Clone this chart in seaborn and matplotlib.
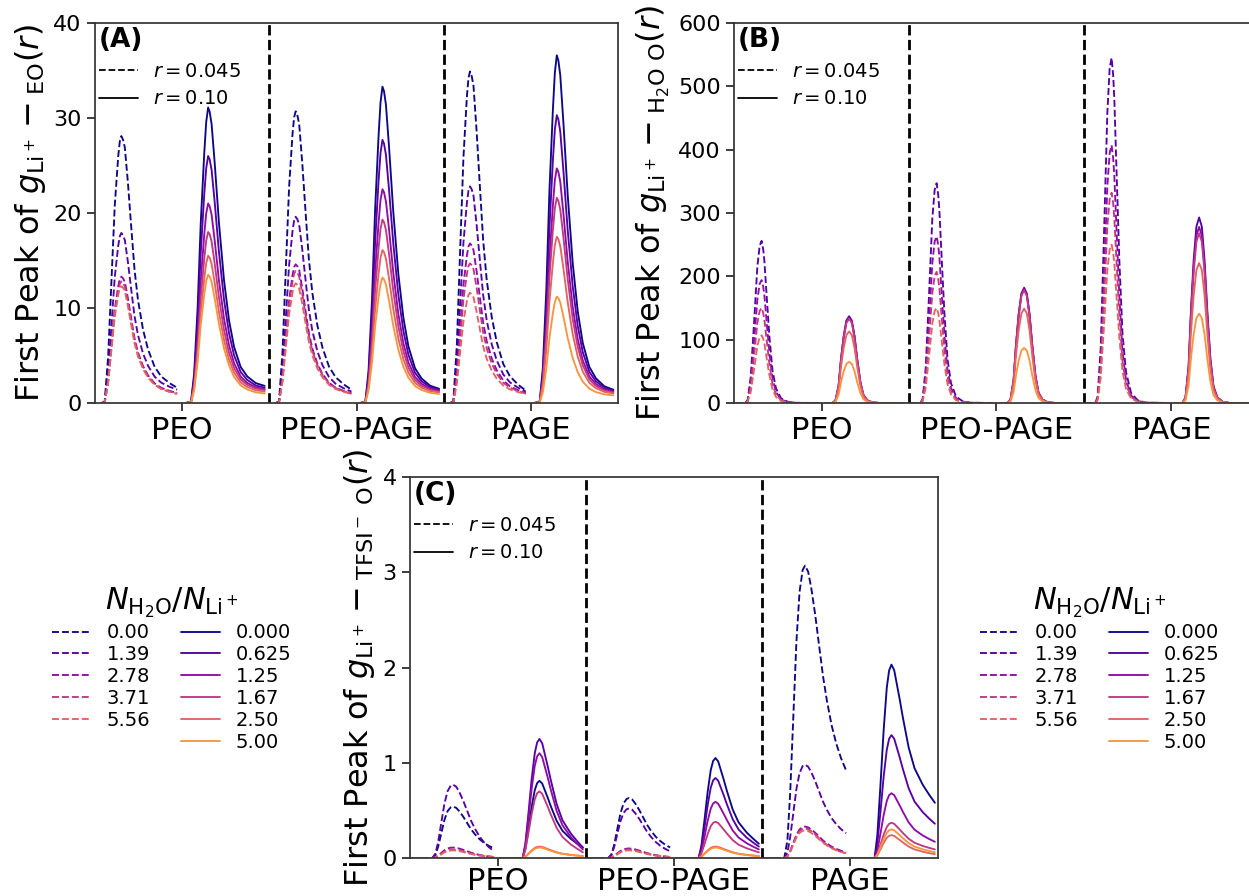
import numpy as np
import pandas as pd
import matplotlib
matplotlib.use("Agg")
import matplotlib.pyplot as plt
from matplotlib.lines import Line2D
import seaborn as sns

# ---------------------------------------------------------------- data
categories = ["PEO", "PEO-PAGE", "PAGE"]
ratios_045 = ["0.00", "1.39", "2.78", "3.71", "5.56"]
ratios_010 = ["0.000", "0.625", "1.25", "1.67", "2.50", "5.00"]

# first-peak maxima (one row per polymer) and value at the end of the r window
peak_A_045 = [[28.1, 17.9, 13.3, 12.8, 12.3],
              [30.7, 19.6, 14.6, 13.9, 12.6],
              [34.9, 22.8, 16.8, 14.7, 11.6]]
tail_A_045 = [[1.6, 1.4, 1.05, 1.0, 0.95],
              [1.4, 1.2, 1.0, 1.0, 0.95],
              [1.3, 1.2, 1.05, 1.0, 0.95]]
peak_A_010 = [[31.1, 26.0, 21.0, 18.0, 15.5, 13.5],
              [33.3, 27.7, 22.5, 19.3, 16.1, 13.2],
              [36.6, 30.3, 24.7, 21.6, 17.5, 11.2]]
tail_A_010 = [[1.8, 1.6, 1.45, 1.35, 1.2, 1.0],
              [1.5, 1.4, 1.3, 1.2, 1.1, 0.95],
              [1.4, 1.3, 1.2, 1.1, 1.0, 0.8]]

# no water at N_H2O/N_Li+ = 0, so no Li+ - H2O curve there
peak_B_045 = [[np.nan, 256, 194, 150, 107],
              [np.nan, 347, 263, 207, 150],
              [np.nan, 545, 407, 332, 250]]
tail_B_045 = [[0, 0, 0, 0, 0], [0, 0, 0, 0, 0], [0, 0, 0, 0, 0]]
peak_B_010 = [[np.nan, 137, 135, 133, 113, 65],
              [np.nan, 182, 180, 178, 149, 87],
              [np.nan, 293, 278, 268, 221, 141]]
tail_B_010 = [[0, 0, 0, 0, 0, 0], [0, 0, 0, 0, 0, 0], [0, 0, 0, 0, 0, 0]]

peak_C_045 = [[0.54, 0.77, 0.11, 0.09, 0.08],
              [0.63, 0.52, 0.10, 0.09, 0.08],
              [3.07, 0.98, 0.33, 0.31, 0.29]]
tail_C_045 = [[0.10, 0.07, 0.01, 0.01, 0.01],
              [0.11, 0.07, 0.01, 0.01, 0.01],
              [0.92, 0.26, 0.06, 0.05, 0.05]]
peak_C_010 = [[0.81, 1.25, 1.10, 0.70, 0.12, 0.11],
              [1.05, 0.84, 0.59, 0.38, 0.12, 0.11],
              [2.03, 1.29, 0.68, 0.37, 0.24, 0.30]]
tail_C_010 = [[0.11, 0.11, 0.09, 0.06, 0.02, 0.02],
              [0.15, 0.12, 0.09, 0.06, 0.02, 0.02],
              [0.58, 0.36, 0.17, 0.09, 0.04, 0.06]]

# normalized first-peak profiles: r (Å) and g scaled to the maximum (rise)
# or to (maximum - end value) (fall)
rA045_rise = [1.57, 1.65, 1.74, 1.83, 1.91, 2.00, 2.04, 2.08]
gA045_rise = [0, 0.005, 0.175, 0.475, 0.74, 0.925, 0.98, 1]
rA045_fall = [2.125, 2.17, 2.25, 2.34, 2.42, 2.51, 2.64, 2.77, 2.94, 3.11, 3.32, 3.52]
gA045_fall = [0.985, 0.955, 0.814, 0.629, 0.47, 0.348, 0.231, 0.152, 0.083, 0.045, 0.019, 0]
rA010_rise = [1.50, 1.63, 1.71, 1.80, 1.88, 1.97, 2.02, 2.07]
gA010_rise = [0, 0.005, 0.10, 0.325, 0.61, 0.845, 0.95, 1]
rA010_fall = [2.11, 2.16, 2.24, 2.35, 2.48, 2.61, 2.74, 2.91, 3.08, 3.30, 3.53]
gA010_fall = [0.985, 0.94, 0.80, 0.585, 0.38, 0.235, 0.14, 0.068, 0.034, 0.01, 0]

rB045_rise = [1.45, 1.69, 1.75, 1.83, 1.92, 2.00, 2.06, 2.11]
gB045_rise = [0, 0, 0.018, 0.16, 0.51, 0.84, 0.97, 1]
rB045_fall = [2.15, 2.18, 2.24, 2.31, 2.39, 2.48, 2.61, 2.78, 2.99, 3.59]
gB045_fall = [0.95, 0.88, 0.66, 0.41, 0.20, 0.09, 0.029, 0.008, 0.001, 0]
rB010_rise = [1.50, 1.68, 1.76, 1.84, 1.90, 1.97, 2.04, 2.11]
gB010_rise = [0, 0, 0.03, 0.2, 0.5, 0.77, 0.95, 1]
rB010_fall = [2.18, 2.25, 2.32, 2.40, 2.48, 2.58, 2.72, 2.90, 3.50]
gB010_fall = [0.95, 0.77, 0.5, 0.24, 0.09, 0.03, 0.006, 0, 0]

rC045_rise = [1.43, 1.97, 2.05, 2.12, 2.20, 2.28, 2.36, 2.44, 2.50]
gC045_rise = [0, 0, 0.06, 0.22, 0.48, 0.74, 0.91, 0.985, 1]
rC045_fall = [2.58, 2.66, 2.76, 2.86, 2.96, 3.06, 3.18, 3.30, 3.42, 3.55]
gC045_fall = [0.97, 0.89, 0.76, 0.61, 0.46, 0.34, 0.22, 0.13, 0.06, 0]
rC010_rise = [1.45, 2.03, 2.10, 2.18, 2.26, 2.34, 2.40, 2.46]
gC010_rise = [0, 0, 0.12, 0.38, 0.66, 0.88, 0.97, 1]
rC010_fall = [2.53, 2.59, 2.67, 2.75, 2.90, 3.05, 3.26, 3.42, 3.57]
gC010_fall = [0.96, 0.87, 0.75, 0.62, 0.40, 0.25, 0.13, 0.06, 0]

# ---------------------------------------------------------------- style
sns.set_theme(style="ticks", rc={"text.color": "black",
                                 "axes.labelcolor": "black",
                                 "xtick.color": "0.15",
                                 "ytick.color": "0.15",
                                 "xtick.labelcolor": "black",
                                 "ytick.labelcolor": "black"})
plt.rcParams["font.family"] = ["DejaVu Sans"]
plt.rcParams["mathtext.fontset"] = "dejavusans"

cmap = sns.color_palette("plasma", as_cmap=True)
colors = [cmap(v) for v in np.linspace(0.0, 0.75, 6)]

SEG = 4.5      # width of one polymer block on the x axis (Å)
HALF = 2.25    # offset of the r = 0.10 block inside a polymer block
R0 = 1.4       # r at the left edge of each sub-block
LW = 1.35

fig = plt.figure(figsize=(12.49, 8.96), dpi=100)
W, H = 1249.0, 896.0


def px_axes(x0, x1, ytop, ybot):
    return fig.add_axes([x0 / W, 1 - ybot / H, (x1 - x0) / W, (ybot - ytop) / H])


def build(rr, gr, rf, gf, peak, tail):
    r = np.concatenate([rr, rf])
    g = np.concatenate([peak * np.asarray(gr, float),
                        tail + (peak - tail) * np.asarray(gf, float)])
    return r, g


def draw_panel(ax, prof045, prof010, pk045, tl045, pk010, tl010,
               ymax, ystep, ylabel, tag, xpad=3.5):
    for s in range(len(categories)):
        for k in range(len(ratios_045)):
            p = pk045[s][k]
            if np.isnan(p):
                continue
            r, g = build(*prof045, p, tl045[s][k])
            x = s * SEG + (r - R0)
            sns.lineplot(x=x, y=g, ax=ax, color=colors[k], lw=LW,
                         linestyle="--", estimator=None, sort=False, legend=False)
        for k in range(len(ratios_010)):
            p = pk010[s][k]
            if np.isnan(p):
                continue
            r, g = build(*prof010, p, tl010[s][k])
            x = s * SEG + HALF + (r - R0)
            sns.lineplot(x=x, y=g, ax=ax, color=colors[k], lw=LW,
                         linestyle="-", estimator=None, sort=False, legend=False)
    for s in range(1, len(categories)):
        ax.axvline(s * SEG, color="black", ls="--", lw=2)
    ax.set_xlim(0, SEG * len(categories))
    ax.set_ylim(0, ymax)
    ax.set_yticks(np.arange(0, ymax + ystep / 2, ystep))
    ax.set_xticks([s * SEG + HALF for s in range(len(categories))])
    ax.set_xticklabels(categories, fontsize=22)
    ax.tick_params(axis="y", labelsize=16)
    ax.tick_params(axis="x", pad=xpad)
    ax.set_xlabel("")
    ax.set_ylabel(ylabel, fontsize=23)
    for side in ["top", "right", "left", "bottom"]:
        ax.spines[side].set_visible(True)
        ax.spines[side].set_color("0.2")
    hs = [Line2D([], [], color="black", ls="--", lw=1.3),
          Line2D([], [], color="black", ls="-", lw=1.3)]
    ax.legend(hs, [r"$r = 0.045$", r"$r = 0.10$"], title=tag,
              loc="upper left", bbox_to_anchor=(0.0, 1.0), frameon=False,
              fontsize=14, borderaxespad=0.1, borderpad=0.1,
              labelspacing=0.45, handlelength=2.0, alignment="left",
              title_fontproperties={"weight": "bold", "size": 19})


axA = px_axes(95, 618, 23, 403)
axB = px_axes(734, 1259, 23, 403)
axC = px_axes(410, 938, 477, 858)

draw_panel(axA, (rA045_rise, gA045_rise, rA045_fall, gA045_fall),
           (rA010_rise, gA010_rise, rA010_fall, gA010_fall),
           peak_A_045, tail_A_045, peak_A_010, tail_A_010, 40, 10,
           r"First Peak of $g_{\mathrm{Li^+}}-{}_{\mathrm{EO}}(r)$", "(A)")
draw_panel(axB, (rB045_rise, gB045_rise, rB045_fall, gB045_fall),
           (rB010_rise, gB010_rise, rB010_fall, gB010_fall),
           peak_B_045, tail_B_045, peak_B_010, tail_B_010, 600, 100,
           r"First Peak of $g_{\mathrm{Li^+}}-{}_{\mathrm{H_2O\ O}}(r)$", "(B)")
draw_panel(axC, (rC045_rise, gC045_rise, rC045_fall, gC045_fall),
           (rC010_rise, gC010_rise, rC010_fall, gC010_fall),
           peak_C_045, tail_C_045, peak_C_010, tail_C_010, 4, 1,
           r"First Peak of $g_{\mathrm{Li^+}}-{}_{\mathrm{TFSI^-\ O}}(r)$", "(C)",
           xpad=0.5)

# shared colour legends for the water content
handles = [Line2D([], [], color=colors[k], ls="--", lw=LW) for k in range(len(ratios_045))]
handles += [Line2D([], [], alpha=0)]
handles += [Line2D([], [], color=colors[k], ls="-", lw=LW) for k in range(len(ratios_010))]
labels = ratios_045 + [""] + ratios_010
title = r"$N_{\mathrm{H_2O}}/N_{\mathrm{Li^+}}$"
for xc in (172, 1100):
    fig.legend(handles, labels, ncol=2, loc="upper center",
               bbox_to_anchor=(xc / W, 1 - 576 / H), frameon=False,
               fontsize=14, title=title, title_fontsize=22,
               labelspacing=0.15, handlelength=2.0, handletextpad=0.8,
               columnspacing=1.6, borderpad=0.0)

fig.savefig("out.png", dpi=100)
